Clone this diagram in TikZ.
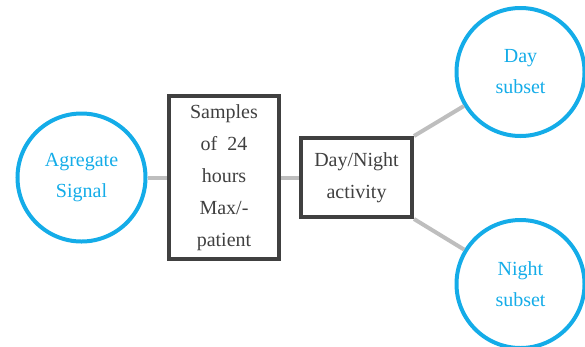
\documentclass[tikz,border=0pt]{standalone}
\usepackage{fontspec}
\setmainfont{Liberation Serif}
\definecolor{accent}{RGB}{20,172,232}
\definecolor{boxline}{RGB}{64,64,64}
\definecolor{linkgray}{RGB}{190,190,190}
\tikzset{
  blob/.style={circle, draw=accent, line width=4pt, minimum size=128pt, inner sep=0pt,
    text=accent, align=center, font=\fontsize{20}{31}\selectfont},
  stepbox/.style={rectangle, draw=boxline, line width=4pt, inner sep=0pt,
    text=boxline, align=center, font=\fontsize{20}{32}\selectfont},
  link/.style={draw=linkgray, line width=4pt}
}
\begin{document}
\begin{tikzpicture}[x=1pt,y=-1pt]
  \useasboundingbox (0,0) rectangle (585,346);
  % nodes
  \node[blob] (agg) at (81.5,177.5) {Agregate\\Signal};
  \node[stepbox, minimum width=110pt, minimum height=163pt] (samp) at (224,177.5)
    {Samples\\of~ 24\\hours\\Max/-\\patient};
  \node[stepbox, minimum width=111pt, minimum height=79pt] (dn) at (356.5,177.5)
    {Day/Night\\activity};
  \node[blob] (day) at (520.5,72) {Day\\subset};
  \node[blob] (night) at (520.5,284) {Night\\subset};
  % connectors
  \draw[link] (agg) -- (samp);
  \draw[link] (samp) -- (dn);
  \draw[link] (dn.north east) -- (day);
  \draw[link] (dn.south east) -- (night);
\end{tikzpicture}
\end{document}
